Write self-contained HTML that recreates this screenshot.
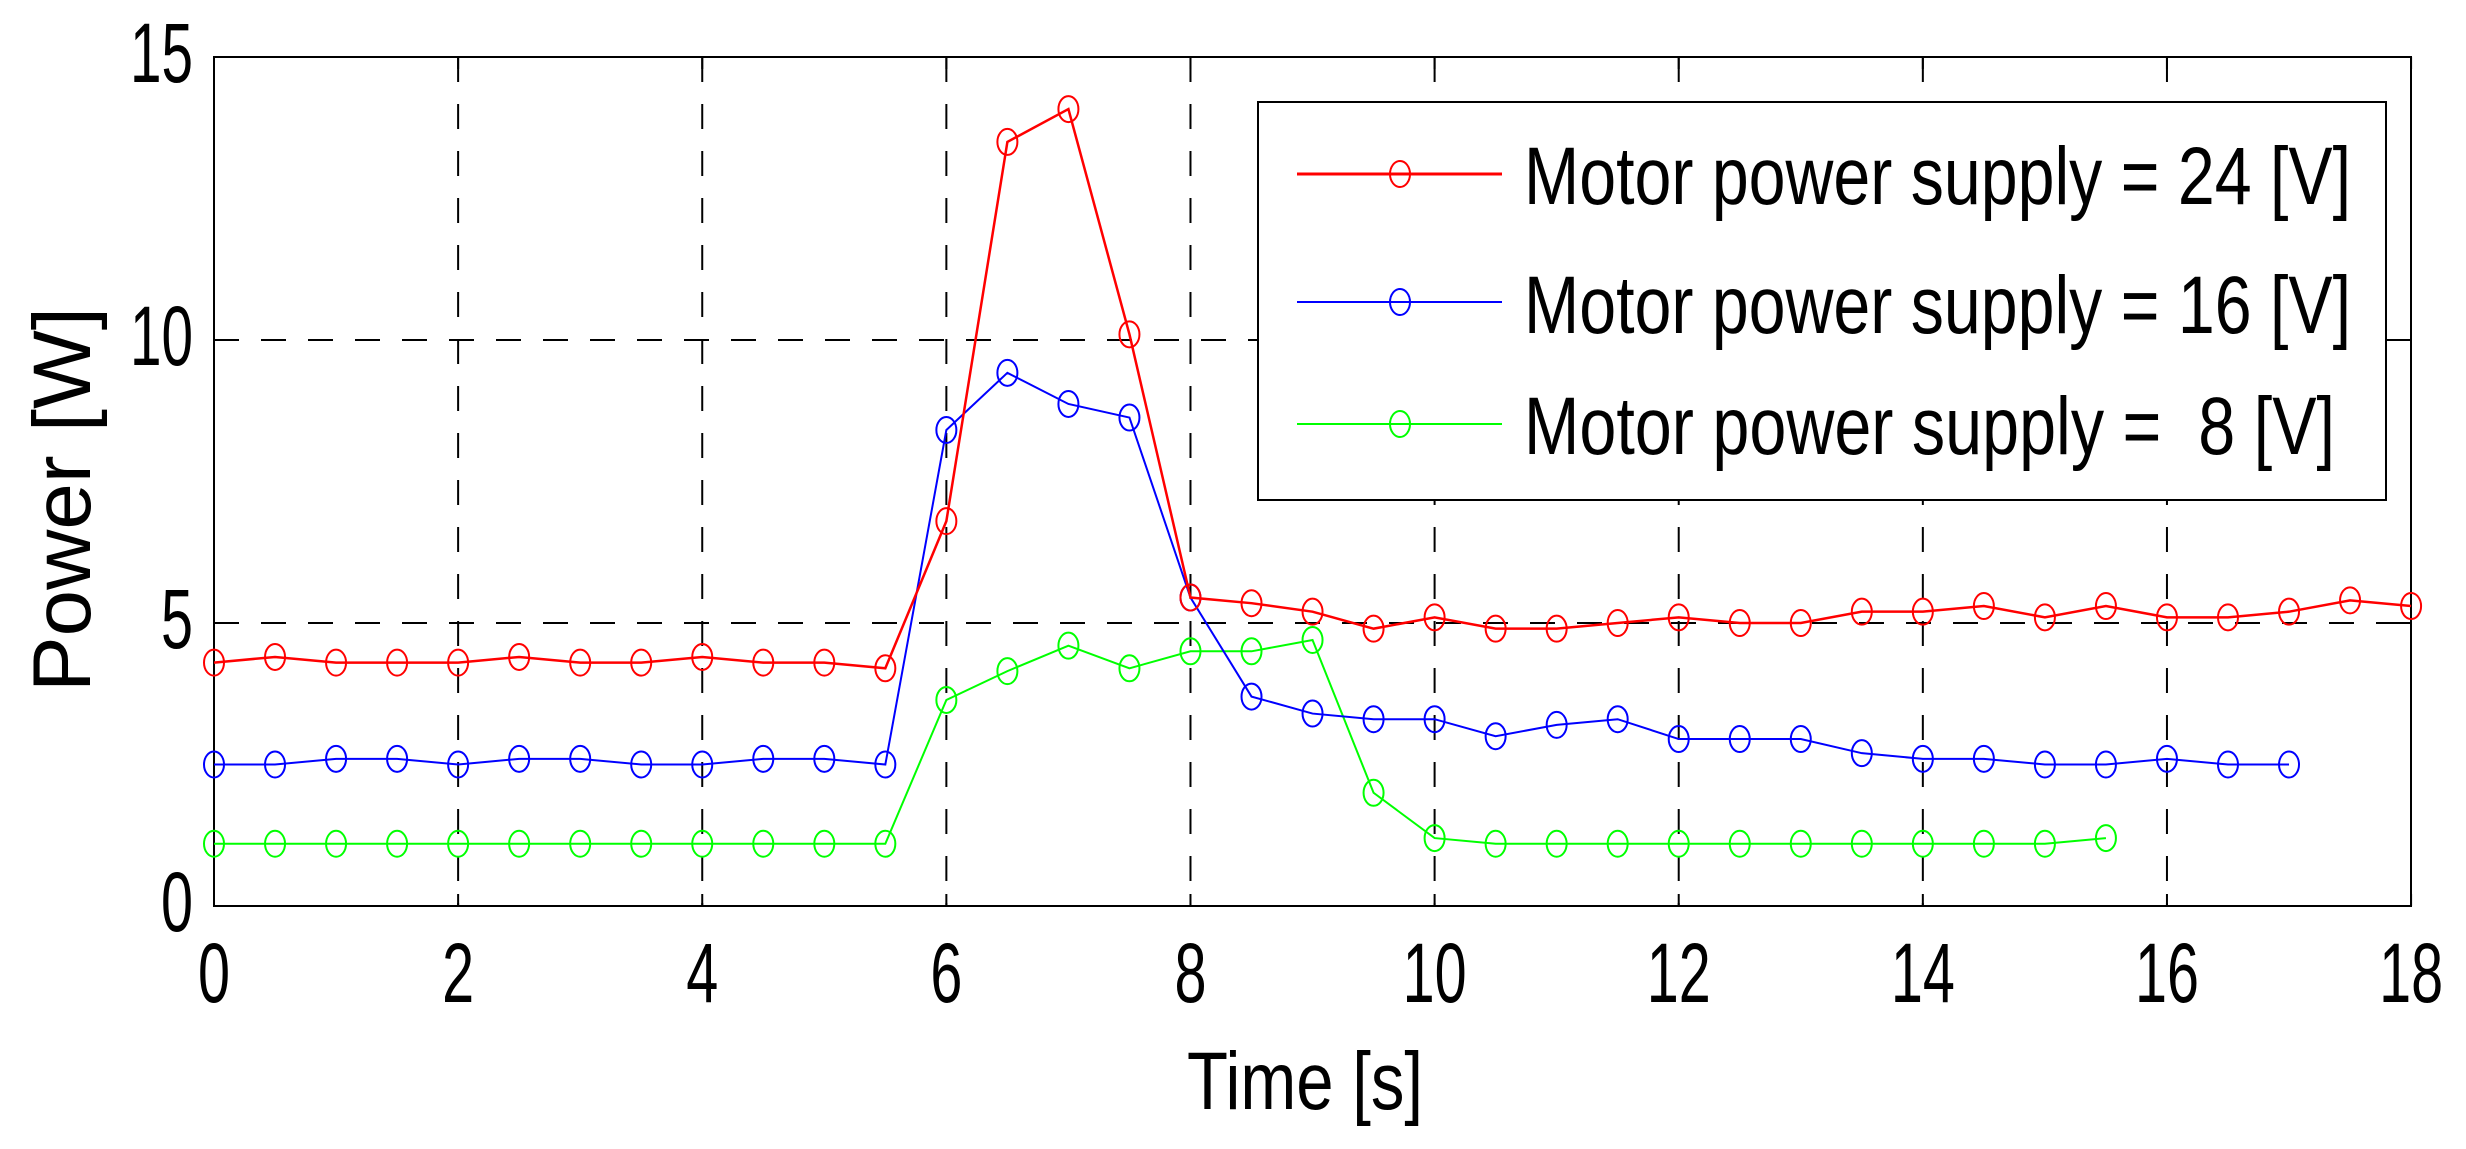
<!DOCTYPE html>
<html><head><meta charset="utf-8"><style>html,body{margin:0;padding:0;background:#fff}svg{display:block}</style></head>
<body>
<svg width="2466" height="1149" viewBox="0 0 2466 1149" xmlns="http://www.w3.org/2000/svg" font-family="Liberation Sans, Arial, sans-serif">
<rect width="2466" height="1149" fill="#fff"/>
<g id="grid" stroke="#000" stroke-width="2" stroke-dasharray="25 22" fill="none"></g>
<g id="ticks" stroke="#000" stroke-width="2"></g>
<rect x="214" y="57" width="2197" height="849" fill="none" stroke="#000" stroke-width="2"/>
<g id="series"></g>
<g id="labels" font-size="84" fill="#000"></g>
<text x="1187" y="1109" font-size="82" textLength="236" lengthAdjust="spacingAndGlyphs">Time [s]</text>
<text transform="translate(90,692) rotate(-90)" font-size="82" textLength="385" lengthAdjust="spacingAndGlyphs">Power [W]</text>
<rect x="1258" y="102" width="1128" height="398" fill="#fff" stroke="#000" stroke-width="2"/>
<line x1="1297" y1="174" x2="1502" y2="174" stroke="#f00" stroke-width="3"/>
<ellipse cx="1400" cy="174" rx="10" ry="13" fill="none" stroke="#f00" stroke-width="2"/>
<line x1="1297" y1="302" x2="1502" y2="302" stroke="#00f" stroke-width="2"/>
<ellipse cx="1400" cy="302" rx="10" ry="13" fill="none" stroke="#00f" stroke-width="2"/>
<line x1="1297" y1="424" x2="1502" y2="424" stroke="#0f0" stroke-width="2"/>
<ellipse cx="1400" cy="424" rx="10" ry="13" fill="none" stroke="#0f0" stroke-width="2"/>
<text x="1524" y="204" font-size="82" textLength="827" lengthAdjust="spacingAndGlyphs">Motor power supply = 24 [V]</text>
<text x="1524" y="333" font-size="82" textLength="827" lengthAdjust="spacingAndGlyphs">Motor power supply = 16 [V]</text>
<text x="1524" y="454" font-size="82" textLength="811" lengthAdjust="spacingAndGlyphs" style="white-space:pre">Motor power supply =  8 [V]</text>
<script>
(function(){
var NS="http://www.w3.org/2000/svg";
function X(v){return 214+v*122.06;}
function Y(v){return 906-v*56.6;}
function el(p,t,a){var e=document.createElementNS(NS,t);for(var k in a)e.setAttribute(k,a[k]);p.appendChild(e);return e;}
var g=document.getElementById('grid'),tk=document.getElementById('ticks'),lb=document.getElementById('labels');
for(var i=2;i<=16;i+=2){el(g,'line',{x1:X(i),y1:57,x2:X(i),y2:906});}
[5,10].forEach(function(v){el(g,'line',{x1:214,y1:Y(v),x2:2411,y2:Y(v)});});
for(var i=0;i<=18;i+=2){el(tk,'line',{x1:X(i),y1:906,x2:X(i),y2:894});el(tk,'line',{x1:X(i),y1:57,x2:X(i),y2:69});
var t=el(lb,'text',{x:X(i),y:1002,'text-anchor':'middle',textLength:(i<10?32:64),lengthAdjust:'spacingAndGlyphs'});t.textContent=i;}
[0,5,10,15].forEach(function(v){el(tk,'line',{x1:214,y1:Y(v),x2:226,y2:Y(v)});el(tk,'line',{x1:2411,y1:Y(v),x2:2399,y2:Y(v)});
var t=el(lb,'text',{x:193,y:Y(v)+25,'text-anchor':'end',textLength:(v<10?32:63),lengthAdjust:'spacingAndGlyphs'});t.textContent=v;});
var red=[4.3,4.4,4.3,4.3,4.3,4.4,4.3,4.3,4.4,4.3,4.3,4.2,6.8,13.5,14.08,10.1,5.45,5.35,5.2,4.9,5.1,4.9,4.9,5.0,5.1,5.0,5.0,5.2,5.2,5.3,5.1,5.3,5.1,5.1,5.2,5.4,5.3];
var blue=[2.5,2.5,2.6,2.6,2.5,2.6,2.6,2.5,2.5,2.6,2.6,2.5,8.41,9.42,8.87,8.63,5.45,3.7,3.4,3.3,3.3,3.0,3.2,3.3,2.95,2.95,2.95,2.7,2.6,2.6,2.5,2.5,2.6,2.5,2.5];
var green=[1.1,1.1,1.1,1.1,1.1,1.1,1.1,1.1,1.1,1.1,1.1,1.1,3.64,4.15,4.6,4.2,4.5,4.5,4.7,2.0,1.2,1.1,1.1,1.1,1.1,1.1,1.1,1.1,1.1,1.1,1.1,1.2];
var s=document.getElementById('series');
[[green,'#0f0',2],[blue,'#00f',2],[red,'#f00',2.5]].forEach(function(d){
var pts=d[0].map(function(v,i){return X(i*0.5)+','+Y(v);}).join(' ');
el(s,'polyline',{points:pts,fill:'none',stroke:d[1],'stroke-width':d[2]});
d[0].forEach(function(v,i){el(s,'ellipse',{cx:X(i*0.5),cy:Y(v),rx:10,ry:13,fill:'none',stroke:d[1],'stroke-width':2});});
});
})();
</script>
</svg>
</body></html>
